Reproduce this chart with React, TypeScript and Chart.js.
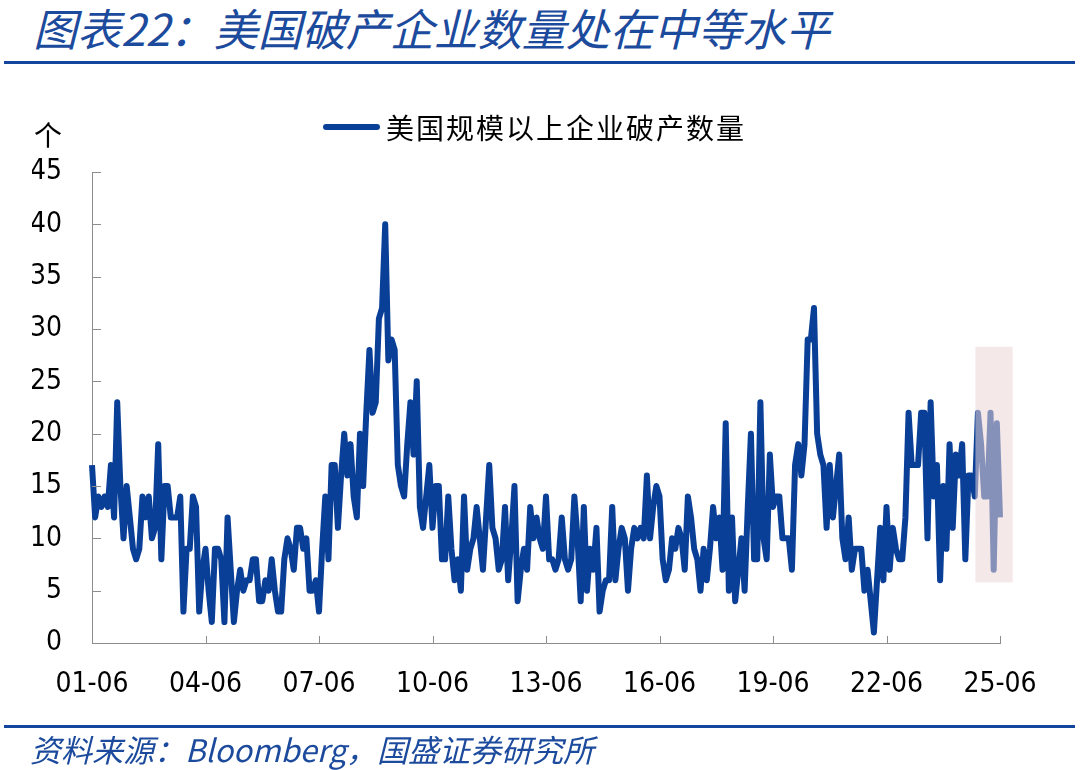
import React, { useEffect, useRef } from "react";
import { Chart, registerables } from "chart.js";

Chart.register(...registerables);

// Monthly count of US large-company bankruptcies, 2001-06 .. 2025-06
const counts2001to2004 = [17, 12, 14, 13, 14, 13, 17, 12, 23, 15, 10, 15, 12, 9, 8, 9, 14, 12, 14, 10, 11, 19, 8, 15, 15, 12, 12, 12, 14, 3, 9, 9, 14, 13, 3, 7];
const counts2004to2007 = [9, 5, 2, 9, 9, 8, 2, 12, 7, 2, 5, 7, 5, 6, 6, 8, 8, 4, 4, 6, 5, 8, 5, 3, 3, 8, 10, 9, 7, 11, 11, 9, 10, 5, 5, 6];
const counts2007to2010 = [3, 9, 14, 8, 17, 17, 11, 16, 20, 16, 19, 14, 12, 20, 15, 22, 28, 22, 23, 31, 32, 40, 27, 29, 28, 17, 15, 14, 19, 23, 18, 25, 13, 11, 14, 17];
const counts2010to2013 = [11, 15, 15, 8, 8, 14, 9, 6, 8, 5, 14, 7, 9, 10, 13, 10, 7, 12, 17, 11, 10, 7, 8, 13, 6, 10, 15, 4, 7, 9, 7, 13, 10, 12, 10, 9];
const counts2013to2016 = [14, 8, 8, 7, 8, 12, 8, 7, 8, 14, 10, 4, 13, 5, 9, 7, 11, 3, 5, 6, 6, 13, 6, 9, 11, 10, 5, 9, 11, 10, 11, 10, 16, 10, 13, 15];
const counts2016to2019 = [14, 8, 6, 7, 10, 9, 11, 10, 7, 14, 12, 9, 8, 5, 9, 6, 9, 13, 10, 12, 7, 21, 5, 12, 4, 7, 10, 5, 13, 20, 8, 8, 23, 10, 8, 18];
const counts2019to2022 = [13, 14, 14, 10, 10, 10, 7, 17, 19, 16, 19, 29, 29, 32, 20, 18, 17, 11, 17, 12, 15, 18, 10, 8, 12, 7, 9, 9, 9, 5, 7, 4, 1, 6, 11, 6];
const counts2022to2025 = [13, 7, 11, 9, 8, 8, 12, 22, 17, 17, 17, 22, 22, 10, 23, 14, 17, 6, 15, 9, 19, 11, 18, 16, 19, 8, 16, 16, 14, 22, 19, 14, 14, 22, 7, 21, 12];

const counts = [
  ...counts2001to2004,
  ...counts2004to2007,
  ...counts2007to2010,
  ...counts2010to2013,
  ...counts2013to2016,
  ...counts2016to2019,
  ...counts2019to2022,
  ...counts2022to2025,
];

const startYear = 2001;
const startMonth = 6;
const monthLabels = counts.map((_, i) => {
  const m = startMonth - 1 + i;
  const yy = (startYear + Math.floor(m / 12)) % 100;
  const mm = (m % 12) + 1;
  return `${String(yy).padStart(2, "0")}-${String(mm).padStart(2, "0")}`;
});
const labelEvery = 36;
const yTicks = [0, 5, 10, 15, 20, 25, 30, 35, 40, 45];

// highlighted recent period (in data units)
const highlightFromIndex = 280.2;
const highlightToIndex = 292;
const highlightLow = 5.8;
const highlightHigh = 28.3;

const seriesName = "美国规模以上企业破产数量";
const titleText = "图表22：美国破产企业数量处在中等水平";
const sourceText = "资料来源：Bloomberg，国盛证券研究所";
const unitText = "个";

const LINE_BLUE = "#0a3f98";
const TITLE_BLUE = "#1c4a9c";
const RULE_BLUE = "#13479e";
const AXIS_GRAY = "#8c8c8c";
const TICK_FONT = "'DejaVu Sans Condensed', 'DejaVu Sans', sans-serif";
const CJK_FONT = "'Noto Sans CJK SC', 'Noto Sans', sans-serif";

export default function App() {
  const canvasRef = useRef<HTMLCanvasElement | null>(null);

  useEffect(() => {
    const canvas = canvasRef.current;
    if (!canvas) return;

    const decorPlugin = {
      id: "decor",
      afterDatasetsDraw(chart: any) {
        const { ctx, scales } = chart;
        const x = scales.x;
        const y = scales.y;
        const l = x.getPixelForValue(highlightFromIndex);
        const r = x.getPixelForValue(highlightToIndex);
        const t = y.getPixelForValue(highlightHigh);
        const b = y.getPixelForValue(highlightLow);
        ctx.save();
        ctx.fillStyle = "rgba(236,214,214,0.55)";
        ctx.fillRect(l, t, r - l, b - t);
        ctx.restore();
      },
      afterDraw(chart: any) {
        const { ctx, chartArea, scales } = chart;
        const x = scales.x;
        const y = scales.y;
        ctx.save();
        ctx.strokeStyle = AXIS_GRAY;
        ctx.lineWidth = 1;
        ctx.beginPath();
        yTicks.forEach((v) => {
          const py = Math.round(y.getPixelForValue(v)) + 0.5;
          ctx.moveTo(chartArea.left, py);
          ctx.lineTo(chartArea.left + 9, py);
        });
        for (let i = 0; i < counts.length; i += labelEvery) {
          const px = Math.round(x.getPixelForValue(i)) + 0.5;
          ctx.moveTo(px, chartArea.bottom);
          ctx.lineTo(px, chartArea.bottom - 7);
        }
        ctx.stroke();
        ctx.restore();
      },
    };

    const chart = new Chart(canvas, {
      type: "line",
      data: {
        labels: monthLabels,
        datasets: [
          {
            label: seriesName,
            data: counts,
            borderColor: LINE_BLUE,
            backgroundColor: LINE_BLUE,
            borderWidth: 6,
            pointRadius: 0,
            pointHoverRadius: 0,
            tension: 0,
            borderJoinStyle: "round",
            fill: false,
          },
        ],
      },
      options: {
        responsive: false,
        animation: false,
        maintainAspectRatio: false,
        layout: { padding: { left: 32, right: 80, top: 172, bottom: 67 } },
        plugins: {
          legend: { display: false },
          tooltip: { enabled: false },
          title: { display: false },
        },
        scales: {
          x: {
            type: "category",
            offset: false,
            grid: { display: false, drawTicks: false },
            border: { display: true, color: AXIS_GRAY, width: 1 },
            ticks: {
              autoSkip: false,
              maxRotation: 0,
              minRotation: 0,
              padding: 25,
              color: "#000",
              font: { family: TICK_FONT, size: 28 },
              callback: (_v: any, index: number) => (index % labelEvery === 0 ? monthLabels[index] : ""),
            },
            afterFit: (scale: any) => {
              scale.height = 60;
            },
          },
          y: {
            min: 0,
            max: 45,
            grid: { display: false, drawTicks: false },
            border: { display: true, color: AXIS_GRAY, width: 1 },
            ticks: {
              stepSize: 5,
              padding: 30,
              color: "#000",
              font: { family: TICK_FONT, size: 28 },
            },
            afterFit: (scale: any) => {
              scale.width = 60;
            },
          },
        },
      },
      plugins: [decorPlugin],
    });

    return () => chart.destroy();
  }, []);

  return (
    <div
      style={{
        position: "absolute",
        left: 0,
        top: 0,
        width: 1080,
        height: 770,
        background: "#fff",
        overflow: "hidden",
        fontFamily: CJK_FONT,
      }}
    >
      <div
        style={{
          position: "absolute",
          left: 33,
          top: 5,
          fontSize: 44,
          lineHeight: "44px",
          fontStyle: "italic",
          color: TITLE_BLUE,
          whiteSpace: "nowrap",
        }}
      >
        {titleText}
      </div>
      <div style={{ position: "absolute", left: 4, top: 61, width: 1071, height: 3, background: RULE_BLUE }} />

      <canvas
        ref={canvasRef}
        width={1080}
        height={770}
        style={{ position: "absolute", left: 0, top: 0, width: 1080, height: 770 }}
      />

      <div
        style={{
          position: "absolute",
          left: 34,
          top: 116,
          fontSize: 28,
          lineHeight: "36px",
          color: "#000",
        }}
      >
        {unitText}
      </div>

      <div style={{ position: "absolute", left: 323, top: 124, width: 57, height: 6, borderRadius: 3, background: LINE_BLUE }} />
      <div
        style={{
          position: "absolute",
          left: 386,
          top: 109,
          fontSize: 28,
          lineHeight: "36px",
          letterSpacing: 2,
          color: "#000",
          whiteSpace: "nowrap",
        }}
      >
        {seriesName}
      </div>

      <div style={{ position: "absolute", left: 4, top: 725, width: 1071, height: 3, background: RULE_BLUE }} />
      <div
        style={{
          position: "absolute",
          left: 30,
          top: 731,
          fontSize: 31,
          lineHeight: "36px",
          fontStyle: "italic",
          color: TITLE_BLUE,
          whiteSpace: "nowrap",
        }}
      >
        {sourceText}
      </div>
    </div>
  );
}
